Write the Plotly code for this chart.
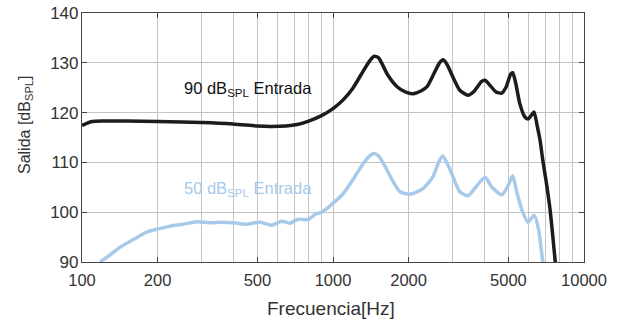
import plotly.graph_objects as go
import math

# ---- data ----
freq_90 = [100, 105, 110, 120, 150, 200, 250, 300, 400, 500, 560, 650, 720, 800, 900,
           1000, 1100, 1200, 1300, 1400, 1460, 1520, 1650, 1800, 1950, 2080, 2250, 2370,
           2500, 2650, 2750, 2850, 3000, 3200, 3450, 3650, 3900, 4030, 4200, 4450, 4700,
           4900, 5100, 5200, 5350, 5550, 5800, 5980, 6200, 6330, 6500, 6680, 6850, 7100,
           7330, 7500, 7700]
spl_90 = [117.4, 117.9, 118.2, 118.3, 118.3, 118.2, 118.1, 118.0, 117.7, 117.3, 117.2,
          117.3, 117.6, 118.3, 119.4, 120.8, 122.6, 124.9, 127.8, 130.4, 131.3, 131.0,
          127.6, 125.2, 124.1, 123.8, 124.4, 125.2, 127.4, 129.9, 130.6, 129.6, 127.2,
          124.5, 123.5, 124.3, 126.2, 126.5, 125.6, 124.2, 123.9, 125.2, 127.7, 128.0,
          125.8, 121.8, 119.2, 118.7, 119.6, 120.1, 117.5, 114.5, 110.5, 105.5, 100.4,
          95.5, 89.5]

freq_50 = [118, 130, 142, 160, 181, 200, 225, 253, 288, 320, 360, 400, 450, 512, 570,
           624, 673, 726, 795, 850, 900, 950, 1000, 1094, 1200, 1300, 1380, 1450, 1520,
           1600, 1720, 1850, 2030, 2290, 2500, 2650, 2740, 2930, 3200, 3450, 3700, 4035,
           4300, 4710, 5000, 5200, 5400, 5660, 5985, 6330, 6600, 6850, 7000]
spl_50 = [90.0, 91.5, 93.0, 94.5, 96.0, 96.6, 97.2, 97.6, 98.1, 97.9, 98.0, 97.9, 97.6,
          98.0, 97.4, 98.2, 97.8, 98.6, 98.5, 99.6, 100.0, 100.8, 101.8, 103.6, 106.5,
          109.3, 111.0, 111.8, 111.3, 109.5, 106.5, 104.1, 103.6, 104.8, 107.1, 110.3,
          111.3, 108.5, 104.1, 103.3, 105.0, 107.0, 105.0, 103.5, 105.5, 107.3, 104.0,
          100.4, 98.0, 99.4, 96.4, 90.0, 87.0]

x_tickvals = [100, 200, 500, 1000, 2000, 5000, 10000]
x_ticktext = ["100", "200", "500", "1000", "2000", "5000", "10000"]
x_minor = [300, 400, 600, 700, 800, 900, 3000, 4000, 6000, 7000, 8000, 9000]
y_tickvals = [90, 100, 110, 120, 130, 140]

label_90 = "90 dB<sub>SPL</sub> Entrada"
label_50 = "50 dB<sub>SPL</sub> Entrada"
x_title = "Frecuencia[Hz]"
y_title = "Salida [dB<sub>SPL</sub>]"

BLACK = "#1c1c1c"
BLUE = "#a7c9ea"
GRID = "#c4c4c4"
FRAME = "#444444"
TEXT = "#333333"
FONT = "Liberation Sans, Arial, sans-serif"

W, H = 624, 325
ML, MT, MR, MB = 82, 13, 40, 63
PW, PH = W - ML - MR, H - MT - MB

fig = go.Figure()
fig.add_trace(go.Scatter(x=freq_50, y=spl_50, mode="lines",
                         line=dict(color=BLUE, width=3.5, shape="spline", smoothing=0.6),
                         hoverinfo="skip", showlegend=False))
fig.add_trace(go.Scatter(x=freq_90, y=spl_90, mode="lines",
                         line=dict(color=BLACK, width=3.5, shape="spline", smoothing=0.6),
                         hoverinfo="skip", showlegend=False))

fig.update_layout(
    width=W, height=H,
    margin=dict(l=ML, r=MR, t=MT, b=MB, autoexpand=False),
    paper_bgcolor="white", plot_bgcolor="white",
    font=dict(family=FONT, color=TEXT, size=17),
    xaxis=dict(type="log", range=[2, 4], automargin=False,
               tickvals=x_tickvals, ticktext=x_ticktext,
               ticks="inside", ticklen=5, tickcolor=FRAME, tickwidth=1,
               ticklabelstandoff=3, ticklabeloverflow="allow",
               showgrid=True, gridcolor=GRID, gridwidth=1,
               showline=True, linecolor=FRAME, linewidth=1.2, mirror="ticks",
               zeroline=False, tickfont=dict(size=16.5, color=TEXT),
               minor=dict(tickvals=x_minor, showgrid=True, gridcolor=GRID, gridwidth=1,
                          ticks="")),
    yaxis=dict(range=[90, 140], tickvals=y_tickvals, automargin=False,
               ticks="inside", ticklen=5, tickcolor=FRAME, tickwidth=1,
               ticklabelstandoff=-1, ticklabeloverflow="allow",
               showgrid=True, gridcolor=GRID, gridwidth=1,
               showline=True, linecolor=FRAME, linewidth=1.2, mirror="ticks",
               zeroline=False, tickfont=dict(size=17, color=TEXT)),
    annotations=[
        dict(text=label_90, x=math.log10(100) + 100 / 251, y=124.8, xref="x", yref="y",
             xanchor="left", yanchor="middle", showarrow=False,
             font=dict(size=16.5, color="#111111")),
        dict(text=label_50, x=math.log10(100) + 100 / 251, y=104.7, xref="x", yref="y",
             xanchor="left", yanchor="middle", showarrow=False,
             font=dict(size=16.5, color=BLUE)),
        dict(text=x_title, x=(331 - ML) / PW, y=(262 - 308) / PH, xref="paper", yref="paper",
             xanchor="center", yanchor="middle", showarrow=False,
             font=dict(size=19, color=TEXT)),
        dict(text=y_title, x=(25 - ML) / PW, y=(262 - 125) / PH, xref="paper", yref="paper",
             xanchor="center", yanchor="middle", showarrow=False, textangle=-90,
             font=dict(size=16, color=TEXT)),
    ],
)

fig.write_html("out.html", config={"displayModeBar": False},
               post_script="document.body.style.margin='0';")
